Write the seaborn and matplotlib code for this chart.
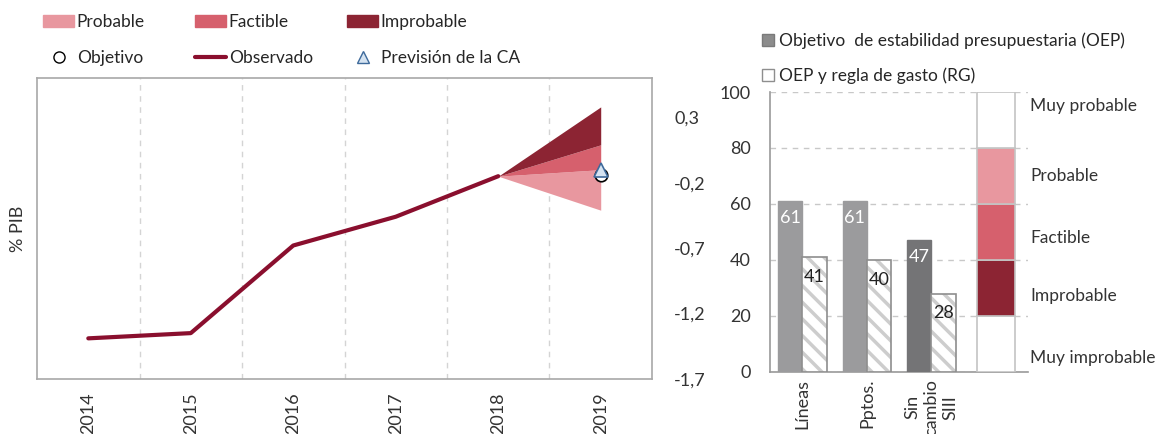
import matplotlib
matplotlib.use('Agg')
import matplotlib.pyplot as plt
import seaborn as sns
import pandas as pd
from matplotlib.patches import Patch
from matplotlib.lines import Line2D

# --- left panel data (% PIB) ---
years = ['2014', '2015', '2016', '2017', '2018', '2019']
observado = [-1.39, -1.35, -0.68, -0.46, -0.15]
fan_2019 = {'Probable': (-0.41, -0.10), 'Factible': (-0.10, 0.09), 'Improbable': (0.09, 0.38)}
objetivo_2019 = -0.14
prevision_ca_2019 = -0.10
yticks_left = [0.3, -0.2, -0.7, -1.2, -1.7]

# --- right panel data (%) ---
escenarios = ['Líneas', 'Pptos.', 'Sin\ncambio\nSIII']
oep = [61, 61, 47]
oep_rg = [41, 40, 28]
bandas = ['Muy improbable', 'Improbable', 'Factible', 'Probable', 'Muy probable']
bandas_valor = [20, 20, 20, 20, 20]
bandas_label_y = [5, 27, 48, 70, 95]

c_prob = '#E8979F'
c_fact = '#D6606D'
c_impr = '#8C2433'
c_obs = '#8A0F2E'
band_colors = {'Muy improbable': 'white', 'Improbable': c_impr, 'Factible': c_fact,
               'Probable': c_prob, 'Muy probable': 'white'}

sns.set_style('white')
plt.rcParams['font.family'] = ['Lato', 'DejaVu Sans']
plt.rcParams['font.size'] = 12
plt.rcParams['hatch.linewidth'] = 2.5

fig = plt.figure(figsize=(11.58, 4.34), dpi=100)
ax1 = fig.add_axes([0.032, 0.127, 0.531, 0.693])
ax2 = fig.add_axes([0.665, 0.143, 0.223, 0.645])

# ---------- left: observed path and probability fan ----------
obs_df = pd.DataFrame({'x': range(len(observado)), 'y': observado})
sns.lineplot(data=obs_df, x='x', y='y', ax=ax1, color=c_obs, lw=3, zorder=3)
x0 = len(observado) - 1
x1 = years.index('2019')
last = observado[-1]
for name, col in [('Probable', c_prob), ('Factible', c_fact), ('Improbable', c_impr)]:
    lo, hi = fan_2019[name]
    ax1.fill_between([x0, x1], [last, lo], [last, hi], color=col, lw=0, zorder=2)
ax1.plot([x1], [objetivo_2019], marker='o', ms=9, mfc='white', mec='black', mew=1.2, ls='none', zorder=4)
ax1.plot([x1], [prevision_ca_2019], marker='^', ms=10, mfc='#D5E3F1', mec='#3E6A9B', mew=1.2, ls='none', zorder=5)

ax1.set_xlim(-0.5, len(years) - 0.5)
ax1.set_ylim(-1.7, 0.6)
ax1.set_xticks(range(len(years)))
ax1.set_xticklabels(years, rotation=90, fontsize=13, color='#333333')
ax1.set_xticks([i + 0.5 for i in range(len(years) - 1)], minor=True)
ax1.grid(which='minor', axis='x', ls=(0, (4, 4)), color='#D4D4D4', lw=1)
ax1.yaxis.tick_right()
ax1.set_yticks(yticks_left)
ax1.set_yticklabels([f'{t:.1f}'.replace('.', ',') for t in yticks_left], fontsize=13, color='#333333')
ax1.tick_params(axis='both', which='both', length=0)
ax1.tick_params(axis='y', pad=16)
ax1.tick_params(axis='x', pad=10)
ax1.set_xlabel('')
ax1.set_ylabel('% PIB', fontsize=13, color='#333333', labelpad=8)
ax1.yaxis.set_label_position('left')
for s in ax1.spines.values():
    s.set_color('#A8A8A8')
    s.set_linewidth(1.2)

# legend: one small legend per column so the columns sit where the reference has them
legend_cols = [
    ([Patch(color=c_prob), Line2D([], [], marker='o', ms=8, mfc='white', mec='black', ls='none')],
     ['Probable', 'Objetivo'], 43),
    ([Patch(color=c_fact), Line2D([], [], color=c_obs, lw=3)],
     ['Factible', 'Observado'], 195),
    ([Patch(color=c_impr), Line2D([], [], marker='^', ms=9, mfc='#D5E3F1', mec='#3E6A9B', ls='none')],
     ['Improbable', 'Previsión de la CA'], 347),
]
for handles, labels, xpix in legend_cols:
    fig.legend(handles, labels, loc='upper left', bbox_to_anchor=(xpix / 1158, 0.968), frameon=False,
               borderpad=0, borderaxespad=0, handlelength=1.8, handletextpad=0.15,
               labelspacing=1.15, fontsize=12.5)

# ---------- right: probability of meeting rules ----------
bar_df = pd.DataFrame({
    'escenario': escenarios * 2,
    'regla': ['OEP'] * len(escenarios) + ['OEP y RG'] * len(escenarios),
    'valor': oep + oep_rg,
})
sns.barplot(data=bar_df, x='escenario', y='valor', hue='regla', palette=['#9B9B9D', 'white'],
            saturation=1, width=0.75, legend=False, ax=ax2, zorder=3)
grey_cols = ['#9B9B9D', '#9B9B9D', '#747476']
for p, col in zip(ax2.containers[0], grey_cols):
    p.set_facecolor(col)
    p.set_edgecolor(col)
for p in ax2.containers[1]:
    p.set_facecolor('white')
    p.set_edgecolor('#CDCDCD')
    p.set_hatch('\\\\')
    p.set_linewidth(0)
    ax2.bar(p.get_x() + p.get_width() / 2, p.get_height(), width=p.get_width(),
            fill=False, edgecolor='#8E8E8E', lw=1.2, zorder=4)

for p, v in zip(ax2.containers[0], oep):
    ax2.text(p.get_x() + p.get_width() / 2, v - 6, str(v), ha='center', va='center',
             color='white', fontsize=13, zorder=5)
for p, v in zip(ax2.containers[1], oep_rg):
    ax2.text(p.get_x() + p.get_width() / 2, v - 7, str(v), ha='center', va='center',
             color='#222222', fontsize=13, zorder=5)

xcol = len(escenarios)
bottom = 0
for name, v in zip(bandas, bandas_valor):
    ax2.bar(xcol, v, bottom=bottom, width=0.59, color=band_colors[name], edgecolor='#C4C4C4', lw=1.2, zorder=3)
    bottom += v
for name, y in zip(bandas, bandas_label_y):
    ax2.text(xcol + 0.53, y, name, ha='left', va='center', fontsize=12.5, color='#333333')

ax2.set_xlim(-0.5, xcol + 0.5)
ax2.set_ylim(0, 100)
ax2.set_yticks(range(0, 101, 20))
ax2.set_xticks(range(len(escenarios)))
ax2.set_xticklabels(escenarios, rotation=90, fontsize=13, color='#333333')
ax2.tick_params(axis='y', labelsize=13, labelcolor='#333333', length=0, pad=14)
ax2.tick_params(axis='x', length=0, pad=5)
ax2.set_xlabel('')
ax2.set_ylabel('')
ax2.yaxis.grid(True, ls=(0, (4, 4)), color='#C8C8C8', lw=1)
ax2.set_axisbelow(True)
sns.despine(ax=ax2, top=True, right=True)
for s in ['left', 'bottom']:
    ax2.spines[s].set_color('#999999')
    ax2.spines[s].set_linewidth(1.2)

h_right = [Patch(facecolor='#8C8C8C', edgecolor='#7A7A7A'), Patch(facecolor='white', edgecolor='#8E8E8E')]
l_right = ['Objetivo  de estabilidad presupuestaria (OEP)', 'OEP y regla de gasto (RG)']
fig.legend(h_right, l_right, loc='upper left', bbox_to_anchor=(762 / 1158, 0.926), frameon=False,
           borderpad=0, borderaxespad=0, handlelength=0.7, handleheight=0.7, handletextpad=0.3,
           labelspacing=1.1, fontsize=12.5)

fig.savefig('out.png', dpi=100)
